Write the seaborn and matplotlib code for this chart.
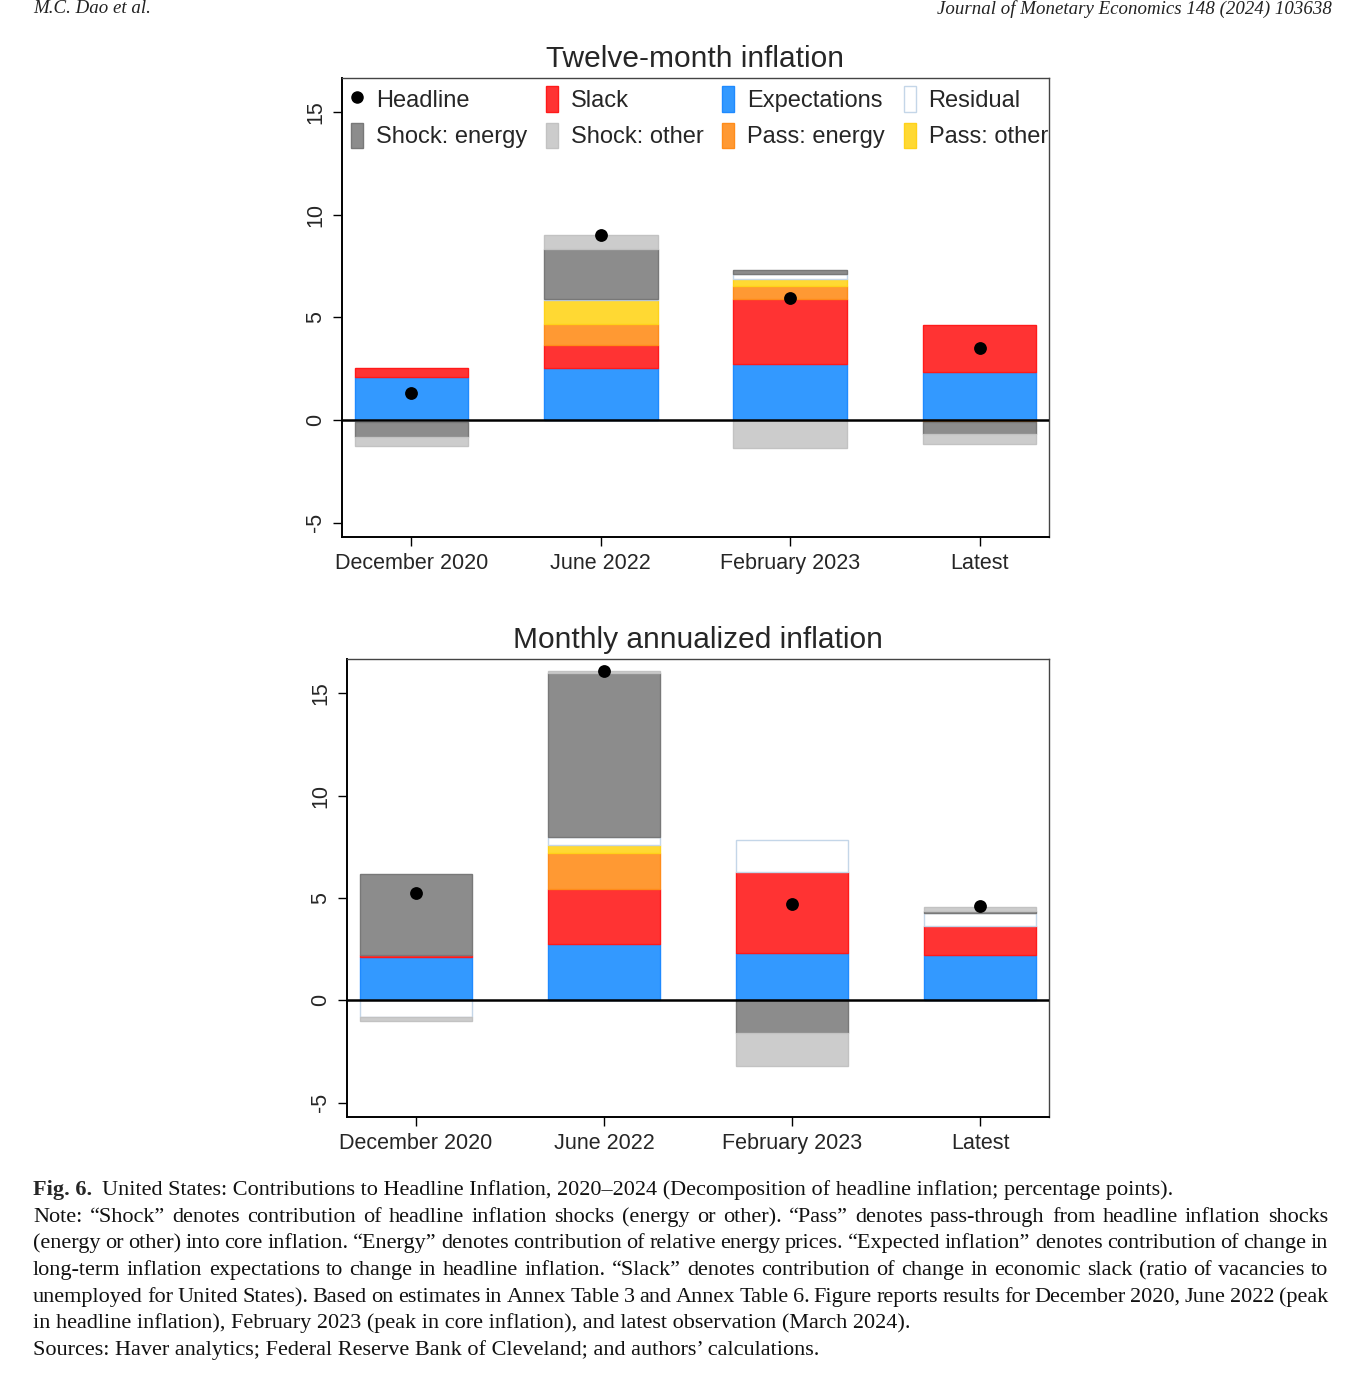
import numpy as np
import matplotlib
matplotlib.use('Agg')
import matplotlib.pyplot as plt
from matplotlib.patches import Patch
from matplotlib.lines import Line2D
import seaborn as sns

sns.set_style('ticks')
plt.rcParams['font.family'] = ['Liberation Sans', 'DejaVu Sans']
plt.rcParams['axes.unicode_minus'] = False

dates = ['December 2020', 'June 2022', 'February 2023', 'Latest']

# stacking order, bottom to top
components = ['Expectations', 'Slack', 'Pass: energy', 'Pass: other',
              'Residual', 'Shock: energy', 'Shock: other']

# twelve-month inflation contributions (pp)
yy_expect = [2.11, 2.56, 2.73, 2.35]
yy_slack = [0.41, 1.09, 3.15, 2.26]
yy_pass_energy = [0.0, 1.04, 0.67, -0.08]
yy_pass_other = [0.0, 1.15, 0.31, 0.0]
yy_resid = [-0.08, 0.06, 0.26, 0.0]
yy_shock_energy = [-0.73, 2.45, 0.19, -0.60]
yy_shock_other = [-0.44, 0.65, -1.38, -0.50]
yy_headline = [1.33, 9.0, 5.97, 3.49]

# monthly annualized inflation contributions (pp)
mm_expect = [2.10, 2.75, 2.31, 2.20]
mm_slack = [0.11, 2.70, 3.96, 1.45]
mm_pass_energy = [0.0, 1.74, 0.0, 0.0]
mm_pass_other = [0.0, 0.39, 0.0, 0.0]
mm_resid = [-0.83, 0.41, 1.56, 0.62]
mm_shock_energy = [3.96, 8.0, -1.60, 0.10]
mm_shock_other = [-0.16, 0.11, -1.63, 0.20]
mm_headline = [5.24, 16.1, 4.71, 4.63]

fills = {'Expectations': '#3399FF', 'Slack': '#FF3333', 'Pass: energy': '#FF9933',
         'Pass: other': '#FFD933', 'Residual': '#FFFFFF', 'Shock: energy': '#8C8C8C',
         'Shock: other': '#CCCCCC'}
edges = {'Expectations': '#1F8AFF', 'Slack': '#FF1A1A', 'Pass: energy': '#FF8C1A',
         'Pass: other': '#FFD21A', 'Residual': '#C4D6E8', 'Shock: energy': '#787878',
         'Shock: other': '#C2C2C2'}

fig = plt.figure(figsize=(13.61, 13.82), dpi=100)
W, H = 1361, 1382


def ax_at(l, t, r, b):
    return fig.add_axes([l / W, 1 - b / H, (r - l) / W, (b - t) / H])


def stacked(ax, series, headline, title):
    pos = np.zeros(len(dates))
    neg = np.zeros(len(dates))
    for name, vals in zip(components, series):
        vals = np.array(vals, dtype=float)
        bottom = np.where(vals >= 0, pos, neg)
        lw = np.where(vals == 0, 0.0, 1.0)
        sns.barplot(x=dates, y=vals, bottom=bottom, order=dates, color=fills[name],
                    edgecolor=edges[name], linewidth=lw, saturation=1, width=0.6,
                    errorbar=None, ax=ax, zorder=2)
        pos = pos + np.clip(vals, 0, None)
        neg = neg + np.clip(vals, None, 0)
    ax.axhline(0, color='black', lw=1.8, zorder=3)
    sns.scatterplot(x=dates, y=headline, color='black', s=85, edgecolor='black',
                    linewidth=0, ax=ax, zorder=4)
    ax.set_xlim(-0.367, 3.367)
    ax.set_ylim(-5.7, 16.67)
    ax.set_yticks([-5, 0, 5, 10, 15])
    ax.set_yticklabels(['-5', '0', '5', '10', '15'], rotation=90, va='center')
    ax.tick_params(axis='both', labelsize=15.5, length=6.5, width=1.0, color='black')
    ax.tick_params(axis='y', pad=5)
    ax.tick_params(axis='x', pad=5)
    ax.set_xlabel('')
    ax.set_ylabel('')
    ax.set_title(title, fontsize=21.5, pad=8)
    for s in ['left', 'bottom']:
        ax.spines[s].set_linewidth(1.4)
        ax.spines[s].set_color('black')
    for s in ['top', 'right']:
        ax.spines[s].set_visible(True)
        ax.spines[s].set_linewidth(1.0)
        ax.spines[s].set_color('#444444')
    ax.grid(False)


ax1 = ax_at(342, 78, 1049, 537)
stacked(ax1, [yy_expect, yy_slack, yy_pass_energy, yy_pass_other, yy_resid,
              yy_shock_energy, yy_shock_other], yy_headline, 'Twelve-month inflation')

ax2 = ax_at(347, 659, 1049, 1117)
stacked(ax2, [mm_expect, mm_slack, mm_pass_energy, mm_pass_other, mm_resid,
              mm_shock_energy, mm_shock_other], mm_headline, 'Monthly annualized inflation')

# legend, filled row by row in the reference
def patch(name):
    return Patch(facecolor=fills[name], edgecolor=edges[name], linewidth=1.0)

dot = Line2D([], [], marker='o', color='black', linestyle='', markersize=8)
handles = [dot, patch('Shock: energy'), patch('Slack'), patch('Shock: other'),
           patch('Expectations'), patch('Pass: energy'), patch('Residual'), patch('Pass: other')]
labels = ['Headline', 'Shock: energy', 'Slack', 'Shock: other',
          'Expectations', 'Pass: energy', 'Residual', 'Pass: other']
ax1.legend(handles, labels, ncol=4, loc='upper left', bbox_to_anchor=(-0.004, 1.008),
           frameon=False, fontsize=17, handlelength=0.5, handleheight=1.3,
           handletextpad=0.55, columnspacing=0.8, labelspacing=0.45,
           borderaxespad=0.3, borderpad=0.2)

# running header at the top edge
fig.text(33 / W, 1, 'M.C. Dao et al.', family='Liberation Serif', style='italic',
         fontsize=13.6, ha='left', va='top', color='#222222')
fig.text(1332 / W, 1, 'Journal of Monetary Economics 148 (2024) 103638',
         family='Liberation Serif', style='italic', fontsize=13.6, ha='right', va='top',
         color='#222222')

# caption
cap_fs = 16.0
cap_family = 'Liberation Serif'
x0, x1 = 33, 1328
line_base = [1195, 1222, 1248, 1275, 1302, 1328, 1355]
caption_lines = [
    'United States: Contributions to Headline Inflation, 2020\u20132024 (Decomposition of headline inflation; percentage points).',
    'Note: \u201cShock\u201d denotes contribution of headline inflation shocks (energy or other). \u201cPass\u201d denotes pass-through from headline inflation shocks',
    '(energy or other) into core inflation. \u201cEnergy\u201d denotes contribution of relative energy prices. \u201cExpected inflation\u201d denotes contribution of change in',
    'long-term inflation expectations to change in headline inflation. \u201cSlack\u201d denotes contribution of change in economic slack (ratio of vacancies to',
    'unemployed for United States). Based on estimates in Annex Table 3 and Annex Table 6. Figure reports results for December 2020, June 2022 (peak',
    'in headline inflation), February 2023 (peak in core inflation), and latest observation (March 2024).',
    'Sources: Haver analytics; Federal Reserve Bank of Cleveland; and authors\u2019 calculations.',
]
justified = [False, True, True, True, True, False, False]

renderer = fig.canvas.get_renderer()
for i, (line, y, just) in enumerate(zip(caption_lines, line_base, justified)):
    yf = 1 - y / H
    start = x0
    if i == 0:
        t = fig.text(x0 / W, yf, 'Fig. 6.', family=cap_family, weight='bold',
                     fontsize=cap_fs, ha='left', va='baseline')
        start = x0 + t.get_window_extent(renderer).width + 10
    if not just:
        fig.text(start / W, yf, line, family=cap_family, fontsize=cap_fs,
                 ha='left', va='baseline', color='#111111')
        continue
    words = line.split(' ')
    texts = [fig.text(0, yf, w, family=cap_family, fontsize=cap_fs, ha='left',
                      va='baseline', color='#111111') for w in words]
    widths = [t.get_window_extent(renderer).width for t in texts]
    gap = (x1 - start - sum(widths)) / (len(words) - 1)
    x = start
    for t, w in zip(texts, widths):
        t.set_x(x / W)
        x += w + gap

fig.savefig('out.png', dpi=100)
